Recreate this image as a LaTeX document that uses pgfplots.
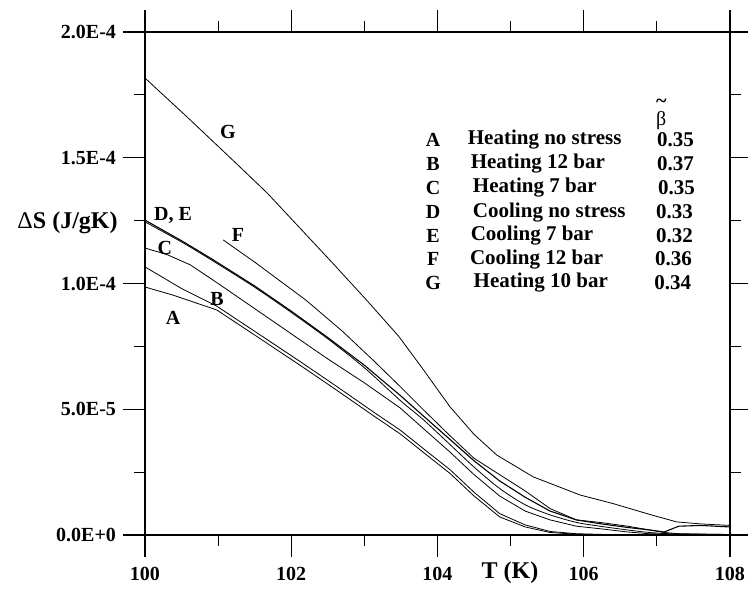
\documentclass[border=0pt]{standalone}
\usepackage{fontspec}
\setmainfont{Liberation Serif}
\usepackage{pgfplots}
\pgfplotsset{compat=1.18}
\begin{document}
\fontsize{10}{12}\selectfont
\begin{tikzpicture}
\useasboundingbox (-72.5pt,-28.5pt) rectangle (301.5pt,267.5pt);
\begin{axis}[
  at={(0,0)}, anchor=south west,
  scale only axis, width=292.5pt, height=251.5pt,
  xmin=100, xmax=108, ymin=0, ymax=20,
  xtick={100,102,104,106,108},
  xticklabels={100,102,104,106,108},
  minor xtick={101,103,105,107},
  ytick={0,5,10,15,20},
  yticklabels={0.0E+0,5.0E-5,1.0E-4,1.5E-4,2.0E-4},
  minor ytick={2.5,7.5,12.5,17.5},
  tick style={black, line width=0.6pt},
  tick align=outside,
  major tick length=11pt, minor tick length=5.5pt,
  axis line style={line width=0.6pt},
  ticklabel style={font=\bfseries},
  yticklabel style={anchor=east},
  xticklabel style={anchor=north, yshift=-1.5pt},
  cycle list={{black,solid,mark=none,line width=0.55pt,smooth,tension=0.35}},
]
% A
\addplot coordinates {(100,9.86)(100.38,9.54)(100.98,8.95)(101.5,7.95)(102.12,6.75)(102.6,5.8)(103.12,4.75)(103.49,4.02)(103.8,3.3)(104.17,2.45)(104.5,1.55)(104.85,0.72)(105.2,0.32)(105.54,0.1)(105.9,0.03)(106.5,0.0)(108,0)};
% B
\addplot coordinates {(100,10.66)(100.5,9.8)(100.98,9.1)(101.5,8.1)(102.12,6.9)(102.6,5.95)(103.12,4.9)(103.49,4.17)(103.8,3.45)(104.17,2.6)(104.5,1.7)(104.85,0.85)(105.2,0.4)(105.54,0.14)(105.9,0.05)(106.3,0.02)(107,0.0)(108,0)};
% C
\addplot coordinates {(100,11.41)(100.3,11.15)(100.62,10.74)(101,10.0)(101.5,9.0)(102,8.0)(102.5,7.0)(103,6.05)(103.49,5.05)(103.8,4.25)(104.17,3.3)(104.5,2.4)(104.85,1.55)(105.2,0.95)(105.54,0.6)(105.9,0.35)(106.22,0.25)(106.6,0.12)(106.9,0.05)(107.3,0.02)(108,0)};
% D
\addplot coordinates {(100,12.52)(100.5,11.7)(100.9,11.0)(101.5,9.9)(102,8.9)(102.5,7.85)(103,6.75)(103.49,5.55)(103.8,4.75)(104.17,3.8)(104.5,2.95)(104.85,2.15)(105.2,1.5)(105.54,0.95)(105.9,0.6)(106.22,0.45)(106.6,0.3)(106.9,0.2)(107.1,0.12)(107.3,0.35)(107.6,0.38)(108,0.32)};
% E
\addplot coordinates {(100,12.45)(100.5,11.65)(100.9,10.95)(101.5,9.85)(102,8.85)(102.5,7.8)(103,6.65)(103.49,5.35)(103.8,4.6)(104.17,3.6)(104.5,2.7)(104.85,1.85)(105.2,1.2)(105.54,0.8)(105.9,0.5)(106.22,0.35)(106.6,0.2)(106.9,0.1)(107.2,0.05)(108,0.02)};
% F
\addplot coordinates {(101.07,11.73)(101.5,10.85)(102.2,9.34)(102.7,8.1)(103.12,6.95)(103.49,5.9)(103.8,5.0)(104.17,3.95)(104.5,3.05)(104.85,2.4)(105.2,1.75)(105.54,1.05)(105.9,0.6)(106.22,0.5)(106.6,0.35)(106.9,0.2)(107.1,0.1)(107.3,0.05)(108,0.02)};
% G
\addplot coordinates {(100,18.17)(100.62,16.5)(101.3,14.63)(101.67,13.6)(102.12,12.2)(102.57,10.8)(103.03,9.34)(103.47,7.9)(103.8,6.6)(104.17,5.1)(104.5,4.0)(104.81,3.18)(105.31,2.31)(105.95,1.59)(106.4,1.25)(106.9,0.82)(107.27,0.52)(107.6,0.44)(108,0.38)};
% curve labels
\node[font=\bfseries] at (axis cs:101.135,16.02) {G};
\node[font=\bfseries] at (axis cs:100.383,12.72) {D, E};
\node[font=\bfseries] at (axis cs:101.27,11.93) {F};
\node[font=\bfseries] at (axis cs:100.27,11.41) {C};
\node[font=\bfseries] at (axis cs:100.985,9.38) {B};
\node[font=\bfseries] at (axis cs:100.383,8.64) {A};
% legend block
\node[anchor=base, inner sep=0pt] at (axis cs:107.06,16.3) {β};
\node[font=\bfseries, inner sep=0pt] at (axis cs:107.06,17.15) {\textasciitilde};
\node[font=\bfseries] at (axis cs:103.94,15.71) {A};
\node[font=\bfseries] at (axis cs:103.94,14.75) {B};
\node[font=\bfseries] at (axis cs:103.94,13.80) {C};
\node[font=\bfseries] at (axis cs:103.94,12.84) {D};
\node[font=\bfseries] at (axis cs:103.94,11.89) {E};
\node[font=\bfseries] at (axis cs:103.94,10.97) {F};
\node[font=\bfseries] at (axis cs:103.94,10.02) {G};
\begin{scope}[every node/.style={font=\fontsize{10.5}{12}\bfseries\selectfont, anchor=west, inner sep=0pt}]
\node at (axis cs:104.41,15.71) {Heating no stress};
\node at (axis cs:104.45,14.75) {Heating 12 bar};
\node at (axis cs:104.48,13.80) {Heating 7 bar};
\node at (axis cs:104.48,12.84) {Cooling no stress};
\node at (axis cs:104.45,11.89) {Cooling 7 bar};
\node at (axis cs:104.44,10.97) {Cooling 12 bar};
\node at (axis cs:104.49,10.02) {Heating 10 bar};
\node at (axis cs:106.998,15.71) {0.35};
\node at (axis cs:106.998,14.75) {0.37};
\node at (axis cs:107.01,13.80) {0.35};
\node at (axis cs:106.985,12.84) {0.33};
\node at (axis cs:106.985,11.89) {0.32};
\node at (axis cs:106.97,10.97) {0.36};
\node at (axis cs:106.96,10.02) {0.34};
\end{scope}
\end{axis}
% axis labels
\node[anchor=east, inner sep=0pt, font=\fontsize{12}{14}\selectfont] at (-13.5pt,156.3pt) {Δ\textbf{S (J/gK)}};
\node[font=\fontsize{12}{14}\bfseries\selectfont] at (182.5pt,-19pt) {T (K)};
\end{tikzpicture}
\end{document}
